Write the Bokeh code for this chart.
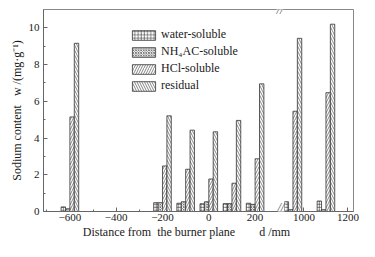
from bokeh.plotting import figure
from bokeh.models import FixedTicker, Label, Legend, LegendItem, Range1d
from bokeh.embed import file_html
from bokeh.resources import INLINE

# ---- data ----
distances = [-600, -200, -100, 0, 100, 200, 950, 1100]
water_soluble = [0.25, 0.48, 0.45, 0.42, 0.43, 0.45, 0.53, 0.57]
nh4ac_soluble = [0.15, 0.48, 0.53, 0.53, 0.43, 0.39, 0.10, 0.10]
hcl_soluble = [5.15, 2.48, 2.30, 1.77, 1.54, 2.87, 5.46, 6.47]
residual = [9.16, 5.21, 4.43, 4.34, 4.96, 6.95, 9.43, 10.20]
series_labels = ["water-soluble", "NH\u2084AC-soluble", "HCl-soluble", "residual"]
x_tick_values = [-600, -400, -200, 0, 200, 1000, 1200]
x_minor_values = [-700, -500, -300, -100, 100, 1100]
y_tick_values = [0, 2, 4, 6, 8, 10]
y_minor_values = [1, 3, 5, 7, 9]
x_title = "Distance from\u00a0 the burner plane" + "\u00a0" * 8 + "d /mm" + "\u00a0" * 8
y_title = "Sodium content" + "\u00a0" * 3 + "w /(mg\u00b7g\u207b\u00b9)"

FONT = "Liberation Serif"
TXT = "#1a1a1a"
AX = "#666666"


def axis_pos(d):
    """Broken axis: values beyond the break are shifted left."""
    if d <= 300:
        return d
    return round(316 + (d - 900) * 0.95, 6)


p = figure(width=359, height=241, output_backend="svg", toolbar_location=None,
           x_range=Range1d(-714, 625), y_range=Range1d(0, 11),
           min_border_left=43, min_border_right=6, min_border_top=9, min_border_bottom=29)
p.background_fill_color = "white"
p.border_fill_color = "white"
p.outline_line_color = "#888888"
p.outline_line_width = 1
p.xgrid.visible = False
p.ygrid.visible = False

bar_w = 19
offsets = [-1.5 * bar_w, -0.5 * bar_w, 0.5 * bar_w, 1.5 * bar_w]
patterns = ["+", "x", "/", "\\"]
scales = [3.2, 2.6, 5.0, 5.0]
all_series = [water_soluble, nh4ac_soluble, hcl_soluble, residual]
renderers = []
for vals, off, pat, sc in zip(all_series, offsets, patterns, scales):
    xs = [axis_pos(d) + off for d in distances]
    r = p.vbar(x=xs, top=vals, bottom=0, width=bar_w,
               fill_color="white", line_color="#333333", line_width=0.8,
               hatch_pattern=pat, hatch_scale=sc, hatch_color="#333333", hatch_weight=0.6)
    renderers.append(r)

legend = Legend(items=[LegendItem(label=l, renderers=[r]) for l, r in zip(series_labels, renderers)],
                location=(86, 118), orientation="vertical")
legend.border_line_color = None
legend.background_fill_alpha = 0
legend.padding = 0
legend.margin = 0
legend.spacing = 2
legend.glyph_width = 29
legend.glyph_height = 12
legend.label_height = 12
legend.label_standoff = 3
legend.label_text_font = FONT
legend.label_text_font_size = "12px"
legend.label_text_color = TXT
p.add_layout(legend)

# axes
p.xaxis.ticker = FixedTicker(ticks=[axis_pos(t) for t in x_tick_values],
                             minor_ticks=[axis_pos(t) for t in x_minor_values])
p.xaxis.major_label_overrides = {axis_pos(t): str(t).replace("-", "\u2212") for t in x_tick_values}
p.yaxis.ticker = FixedTicker(ticks=y_tick_values, minor_ticks=y_minor_values)
for ax in (p.xaxis, p.yaxis):
    ax.axis_line_color = AX
    ax.major_tick_line_color = AX
    ax.minor_tick_line_color = AX
    ax.major_tick_in = 4
    ax.major_tick_out = 0
    ax.minor_tick_in = 2
    ax.minor_tick_out = 0
    ax.major_label_text_font = FONT
    ax.major_label_text_font_size = "11px"
    ax.major_label_text_color = TXT
    ax.axis_label_text_font = FONT
    ax.axis_label_text_font_size = "12px"
    ax.axis_label_text_font_style = "normal"
    ax.axis_label_text_color = TXT
p.xaxis.major_label_standoff = 2
p.xaxis.axis_label_standoff = 1
p.xaxis.axis_label = x_title
p.yaxis.major_label_standoff = 4
p.yaxis.axis_label_standoff = 2
p.yaxis.axis_label = y_title

# break marks on the frame
p.add_layout(Label(x=307, y=11, text="//", text_align="center", text_baseline="middle",
                   text_font=FONT, text_font_size="12px", text_color="#555555",
                   background_fill_color="white", text_font_style="italic"))
p.add_layout(Label(x=312, y=0, y_offset=5, text="//", text_align="center", text_baseline="middle",
                   text_font=FONT, text_font_size="12px", text_color="#555555",
                   background_fill_color="white", text_font_style="italic"))

open("out.html", "w").write(file_html(p, INLINE))
